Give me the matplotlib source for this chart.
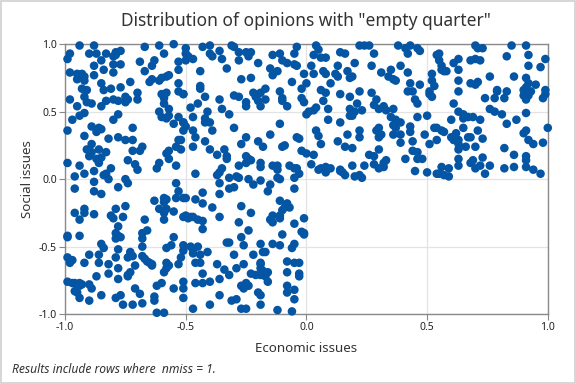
import matplotlib
matplotlib.use("Agg")
import matplotlib.pyplot as plt
from matplotlib.patches import Rectangle

plt.rcParams.update({
    "font.family": ["Noto Sans", "DejaVu Sans"],
})

# Punti: quadrante in alto a sinistra
x_top_left = [
    -0.94, -0.88, -0.67, -0.61, -0.55, -0.98, -0.99, -0.90, -0.87, -0.83, -0.80, -0.79, -0.77, -0.79,
    -0.85, -0.88, -0.80, -0.77, -0.69, -0.63, -0.64, -0.59, -0.53, -0.53, -0.57, -0.58, -0.98, -0.95,
    -0.94, -0.95, -0.93, -0.92, -0.92, -0.88, -0.84, -0.80, -0.67, -0.61, -0.64, -0.65, -0.60, -0.85,
    -0.84, -0.77, -0.73, -0.81, -0.93, -0.91, -0.70, -0.60, -0.58, -0.53, -0.53, -0.51, -0.92, -0.91,
    -0.89, -0.83, -0.80, -0.78, -0.75, -0.74, -0.75, -0.70, -0.59, -0.59, -0.98, -0.95, -0.85, -0.61,
    -0.57, -0.57, -0.60, -0.58, -0.53, -0.55, -0.51, -0.92, -0.94, -0.97, -0.78, -0.80, -0.99, -0.89,
    -0.86, -0.85, -0.87, -0.72, -0.92, -0.82, -0.78, -0.75, -0.72, -0.68, -0.69, -0.89, -0.91, -0.89,
    -0.86, -0.83, -0.90, -0.87, -0.85, -0.86, -0.74, -0.72, -0.61, -0.62, -0.58, -0.57, -0.54, -0.53,
    -0.52, -0.57, -0.71, -0.70, -0.54, -0.99, -0.94, -0.88, -0.83, -0.84, -0.81, -0.82, -0.96, -0.92,
    -0.75,
    -0.50, -0.43, -0.40, -0.31, -0.30, -0.50, -0.49, -0.50, -0.47, -0.40, -0.39, -0.36, -0.35, -0.28,
    -0.28, -0.25, -0.24, -0.23, -0.24, -0.20, -0.14, -0.11, -0.04, -0.05, -0.10, -0.08, -0.05, -0.04,
    -0.15, -0.12, -0.14, -0.33, -0.44, -0.01, -0.27, -0.23, -0.06, 0.00, -0.02, -0.11, -0.17, -0.19,
    -0.21, -0.22, -0.20, -0.19, -0.17, -0.25, -0.25, -0.30, -0.28, -0.36, -0.42, -0.44, -0.44, -0.51,
    -0.45, -0.48, -0.41, -0.35, -0.32, -0.10, -0.10, -0.08, -0.02, -0.01, 0.00, -0.51, -0.50, -0.51,
    -0.47, -0.42, -0.42, -0.40, -0.39, -0.47, -0.46, -0.42, -0.47, -0.52, -0.30, -0.25, -0.27, -0.20,
    -0.18, -0.15, -0.11, -0.10, -0.09, -0.04, -0.03, -0.02, 0.00, -0.40, -0.34, -0.37, -0.33, -0.33,
    -0.25, -0.24, -0.23, -0.25, -0.19, -0.19, -0.14, -0.12, -0.12, -0.07, -0.05, -0.04, -0.28, -0.35,
    -0.36, -0.37, -0.46, -0.32, -0.29, -0.28, -0.24, -0.19, -0.12, -0.11, -0.05, -0.03,
]
y_top_left = [
    0.99, 0.99, 0.98, 0.99, 1.00, 0.93, 0.89, 0.93, 0.93, 0.93, 0.91, 0.94, 0.95, 0.92,
    0.88, 0.84, 0.85, 0.85, 0.87, 0.88, 0.84, 0.93, 0.87, 0.81, 0.77, 0.76, 0.79, 0.78,
    0.77, 0.74, 0.78, 0.76, 0.73, 0.77, 0.81, 0.79, 0.80, 0.73, 0.74, 0.72, 0.75, 0.71,
    0.66, 0.68, 0.72, 0.67, 0.67, 0.66, 0.64, 0.63, 0.64, 0.71, 0.65, 0.63, 0.61, 0.57,
    0.56, 0.58, 0.59, 0.58, 0.61, 0.59, 0.57, 0.59, 0.60, 0.56, 0.59, 0.54, 0.54, 0.50,
    0.52, 0.47, 0.46, 0.45, 0.46, 0.41, 0.42, 0.49, 0.47, 0.44, 0.48, 0.44, 0.36, 0.39,
    0.38, 0.37, 0.35, 0.38, 0.32, 0.30, 0.31, 0.29, 0.29, 0.24, 0.21, 0.26, 0.22, 0.20,
    0.22, 0.20, 0.17, 0.15, 0.16, 0.12, 0.14, 0.21, 0.12, 0.08, 0.19, 0.15, 0.24, 0.29,
    0.29, 0.21, 0.11, 0.07, 0.10, 0.12, 0.10, 0.06, 0.04, 0.03, 0.08, 0.00, 0.02, 0.04,
    0.00,
    0.97, 0.98, 0.99, 0.99, 0.98, 0.93, 0.91, 0.88, 0.89, 0.93, 0.91, 0.95, 0.89, 0.94,
    0.88, 0.94, 0.93, 0.94, 0.91, 0.86, 0.92, 0.93, 0.98, 0.93, 0.88, 0.86, 0.85, 0.84,
    0.82, 0.80, 0.77, 0.82, 0.80, 0.78, 0.74, 0.75, 0.72, 0.71, 0.67, 0.65, 0.67, 0.64,
    0.61, 0.64, 0.58, 0.54, 0.59, 0.57, 0.54, 0.62, 0.61, 0.59, 0.61, 0.69, 0.67, 0.63,
    0.56, 0.53, 0.50, 0.52, 0.48, 0.60, 0.58, 0.54, 0.60, 0.57, 0.48, 0.42, 0.39, 0.36,
    0.46, 0.45, 0.42, 0.42, 0.36, 0.36, 0.31, 0.28, 0.24, 0.22, 0.38, 0.31, 0.26, 0.28,
    0.24, 0.33, 0.41, 0.24, 0.25, 0.31, 0.30, 0.21, 0.19, 0.22, 0.22, 0.18, 0.17, 0.15,
    0.17, 0.15, 0.14, 0.12, 0.12, 0.09, 0.10, 0.10, 0.07, 0.10, 0.08, 0.08, 0.10, 0.08,
    0.05, 0.03, 0.04, 0.01, 0.02, 0.01, 0.00, -0.01, 0.01, 0.00, 0.01, 0.04,
]

# Quadrante in alto a destra
x_top_right = [
    0.04, 0.05, 0.03, 0.06, 0.08, 0.14, 0.16, 0.22, 0.24, 0.26, 0.28, 0.27, 0.20, 0.13, 0.02, 0.03,
    0.07, 0.08, 0.12, 0.13, 0.17, 0.18, 0.19, 0.10, 0.31, 0.35, 0.34, 0.36, 0.37, 0.38, 0.41, 0.43,
    0.42, 0.46, 0.47, 0.39, 0.42, 0.43, 0.47, 0.42, 0.44, 0.45, 0.46, 0.27, 0.29, 0.28, 0.30, 0.32,
    0.36, 0.33, 0.22, 0.18, 0.14, 0.06, 0.08, 0.07, 0.09, 0.04, 0.03, 0.01, 0.18, 0.21, 0.23, 0.20,
    0.19, 0.18, 0.09, 0.14, 0.35, 0.37, 0.36, 0.37, 0.39, 0.46, 0.43, 0.43, 0.04, 0.05, 0.06, 0.13,
    0.17, 0.22, 0.22, 0.29, 0.30, 0.31, 0.30, 0.36, 0.39, 0.39, 0.44, 0.44, 0.46, 0.48, 0.46, 0.41,
    0.03, 0.16, 0.19, 0.30, 0.26, 0.28, 0.28, 0.30, 0.32, 0.33, 0.32, 0.24, 0.19, 0.14, 0.15, 0.16,
    0.14, 0.10, 0.08, 0.08, 0.06, 0.05, 0.02, 0.20, 0.22, 0.23, 0.45,
    0.70, 0.71, 0.73, 0.85, 0.91, 0.54, 0.55, 0.55, 0.56, 0.56, 0.58, 0.57, 0.61, 0.63, 0.63, 0.68,
    0.70, 0.72, 0.83, 0.92, 0.92, 0.97, 0.99, 0.52, 0.52, 0.53, 0.76, 0.86, 0.91, 0.92, 0.91, 0.95,
    0.63, 0.68, 0.70, 0.71, 0.63, 0.51, 0.52, 0.51, 0.79, 0.79, 0.78, 0.74, 0.82, 0.83, 0.90, 0.90,
    0.91, 0.92, 0.93, 0.98, 0.99, 0.99, 0.61, 0.76, 0.78, 0.81, 0.83, 0.91, 0.87, 0.63, 0.65, 0.65,
    0.67, 0.69, 0.72, 0.60, 0.50, 0.53, 0.54, 0.56, 0.57, 0.65, 0.71, 0.68, 0.67, 0.73, 0.62, 0.60,
    0.61, 0.63, 0.63, 0.63, 0.66, 0.70, 0.54, 0.51, 0.49, 0.91, 0.90, 0.92, 0.94, 0.98, 1.00, 0.82,
    0.86, 0.91, 0.91, 0.91, 0.94, 0.97, 0.86, 0.82, 0.73, 0.72, 0.76, 0.74, 0.69, 0.68, 0.70, 0.63,
    0.63, 0.59, 0.56, 0.55, 0.54, 0.57, 0.59, 0.50,
]
y_top_right = [
    0.99, 0.96, 0.92, 0.90, 0.90, 0.94, 0.93, 0.99, 0.99, 0.99, 0.93, 0.84, 0.86, 0.84, 0.84, 0.78,
    0.80, 0.78, 0.78, 0.76, 0.80, 0.75, 0.76, 0.71, 0.79, 0.81, 0.76, 0.74, 0.73, 0.99, 0.97, 0.99,
    0.93, 0.97, 0.95, 0.84, 0.79, 0.71, 0.70, 0.65, 0.65, 0.59, 0.56, 0.64, 0.59, 0.55, 0.52, 0.54,
    0.52, 0.51, 0.65, 0.61, 0.63, 0.66, 0.64, 0.58, 0.52, 0.53, 0.51, 0.50, 0.52, 0.56, 0.51, 0.50,
    0.47, 0.47, 0.44, 0.42, 0.46, 0.44, 0.40, 0.38, 0.42, 0.46, 0.39, 0.35, 0.36, 0.32, 0.26, 0.28,
    0.33, 0.36, 0.31, 0.36, 0.38, 0.33, 0.31, 0.33, 0.33, 0.27, 0.28, 0.21, 0.20, 0.15, 0.15, 0.15,
    0.18, 0.24, 0.23, 0.22, 0.18, 0.17, 0.11, 0.08, 0.12, 0.14, 0.09, 0.10, 0.10, 0.07, 0.05, 0.03,
    0.06, 0.08, 0.09, 0.05, 0.08, 0.07, 0.11, 0.02, 0.03, 0.01, 0.06,
    0.99, 0.97, 0.97, 0.99, 0.99, 0.92, 0.93, 0.88, 0.84, 0.81, 0.80, 0.80, 0.86, 0.89, 0.81, 0.88,
    0.89, 0.88, 0.91, 0.92, 0.84, 0.83, 0.89, 0.78, 0.73, 0.69, 0.76, 0.76, 0.75, 0.71, 0.68, 0.70,
    0.73, 0.71, 0.70, 0.72, 0.65, 0.63, 0.61, 0.65, 0.65, 0.66, 0.60, 0.60, 0.60, 0.65, 0.66, 0.62,
    0.59, 0.62, 0.65, 0.60, 0.66, 0.63, 0.56, 0.52, 0.50, 0.48, 0.41, 0.49, 0.44, 0.50, 0.48, 0.45,
    0.46, 0.46, 0.44, 0.44, 0.47, 0.38, 0.38, 0.36, 0.35, 0.38, 0.36, 0.31, 0.31, 0.30, 0.34, 0.31,
    0.29, 0.29, 0.26, 0.22, 0.24, 0.24, 0.29, 0.26, 0.33, 0.36, 0.34, 0.29, 0.26, 0.27, 0.38, 0.23,
    0.18, 0.17, 0.14, 0.09, 0.07, 0.04, 0.09, 0.08, 0.16, 0.10, 0.10, 0.04, 0.14, 0.12, 0.08, 0.15,
    0.10, 0.08, 0.09, 0.04, 0.04, 0.03, 0.02, 0.05,
]

# Quadrante in basso a sinistra
x_bottom_left = [
    -0.96, -0.88, -0.88, -0.85, -0.78, -0.74, -0.54, -0.53, -0.54, -0.51, -0.63, -0.61, -0.59, -0.58,
    -0.59, -0.58, -0.59, -0.59, -0.55, -0.51, -0.96, -0.92, -0.92, -0.94, -0.88, -0.81, -0.80, -0.79,
    -0.75, -0.76, -0.78, -0.67, -0.79, -0.78, -0.77, -0.79, -0.99, -0.99, -0.94, -0.68, -0.66, -0.68,
    -0.55, -0.85, -0.84, -0.78, -0.68, -0.58, -0.56, -0.52, -0.51, -0.51, -0.99, -0.97, -0.98, -0.92,
    -0.90, -0.86, -0.86, -0.82, -0.79, -0.78, -0.74, -0.73, -0.72, -0.71, -0.68, -0.67, -0.66, -0.65,
    -0.64, -0.64, -0.58, -0.57, -0.59, -0.53, -0.73, -0.74, -0.74, -0.87, -0.82, -0.78, -0.99, -0.97,
    -0.96, -0.94, -0.94, -0.93, -0.90, -0.89, -0.96, -0.95, -0.94, -0.90, -0.85, -0.79, -0.77, -0.76,
    -0.72, -0.71, -0.69, -0.68, -0.63, -0.63, -0.62, -0.60, -0.55, -0.51, -0.51, -0.51, -0.62, -0.59,
    -0.58,
    -0.36, -0.32, -0.30, -0.22, -0.15, -0.16, -0.50, -0.46, -0.43, -0.43, -0.39, -0.36, -0.05, -0.11,
    -0.08, -0.09, -0.07, -0.10, -0.11, -0.14, -0.15, -0.14, -0.11, -0.05, -0.01, -0.02, -0.01, -0.01,
    -0.27, -0.23, -0.28, -0.36, -0.50, -0.49, -0.48, -0.47, -0.45, -0.43, -0.43, -0.24, -0.27, -0.26,
    -0.10, -0.33, -0.32, -0.48, -0.47, -0.47, -0.45, -0.44, -0.46, -0.44, -0.41, -0.30, -0.22, -0.19,
    -0.14, -0.11, -0.18, -0.17, -0.05, -0.06, -0.37, -0.34, -0.32, -0.29, -0.26, -0.19, -0.19, -0.19,
    -0.18, -0.16, -0.19, -0.17, -0.16, -0.23, -0.21, -0.08, -0.05, -0.03, -0.08, -0.03, -0.03, -0.43,
    -0.46, -0.43, -0.40, -0.36, -0.27, -0.25, -0.24, -0.26, -0.36, -0.31, -0.29, -0.20, -0.19, -0.19,
    -0.08, -0.08, -0.05, -0.05, -0.40, -0.47, -0.27, -0.25, -0.12, -0.06,
]
y_bottom_left = [
    -0.07, -0.02, -0.09, -0.11, -0.06, -0.03, -0.03, -0.09, -0.14, -0.14, -0.16, -0.22, -0.14, -0.15,
    -0.17, -0.22, -0.25, -0.30, -0.24, -0.28, -0.25, -0.22, -0.25, -0.30, -0.26, -0.27, -0.29, -0.22,
    -0.20, -0.28, -0.35, -0.30, -0.40, -0.42, -0.43, -0.44, -0.42, -0.43, -0.42, -0.40, -0.38, -0.44,
    -0.43, -0.48, -0.51, -0.52, -0.50, -0.51, -0.49, -0.58, -0.53, -0.49, -0.58, -0.60, -0.62, -0.62,
    -0.56, -0.56, -0.62, -0.63, -0.58, -0.66, -0.58, -0.54, -0.57, -0.64, -0.57, -0.59, -0.61, -0.62,
    -0.63, -0.64, -0.62, -0.64, -0.69, -0.63, -0.69, -0.71, -0.72, -0.72, -0.70, -0.74, -0.76, -0.77,
    -0.77, -0.77, -0.79, -0.78, -0.78, -0.81, -0.83, -0.84, -0.88, -0.90, -0.86, -0.88, -0.86, -0.93,
    -0.93, -0.81, -0.85, -0.92, -0.87, -0.90, -0.79, -0.77, -0.81, -0.76, -0.81, -0.88, -0.99, -0.99,
    -0.66,
    -0.03, -0.07, -0.06, -0.04, -0.04, -0.09, -0.14, -0.15, -0.10, -0.18, -0.21, -0.11, -0.07, -0.16,
    -0.18, -0.21, -0.21, -0.23, -0.27, -0.27, -0.30, -0.32, -0.29, -0.33, -0.29, -0.39, -0.41, -0.40,
    -0.20, -0.25, -0.32, -0.28, -0.27, -0.29, -0.28, -0.28, -0.30, -0.31, -0.37, -0.38, -0.43, -0.49,
    -0.41, -0.47, -0.47, -0.50, -0.52, -0.55, -0.50, -0.56, -0.62, -0.62, -0.54, -0.56, -0.56, -0.48,
    -0.48, -0.49, -0.54, -0.54, -0.48, -0.51, -0.63, -0.67, -0.71, -0.66, -0.63, -0.63, -0.62, -0.66,
    -0.68, -0.69, -0.71, -0.72, -0.76, -0.70, -0.71, -0.61, -0.62, -0.62, -0.69, -0.70, -0.72, -0.70,
    -0.77, -0.77, -0.76, -0.74, -0.79, -0.77, -0.79, -0.81, -0.86, -0.90, -0.89, -0.84, -0.86, -0.93,
    -0.79, -0.84, -0.82, -0.89, -0.93, -0.96, -0.96, -0.96, -0.97, -0.98,
]

x_all = x_top_left + x_top_right + x_bottom_left
y_all = y_top_left + y_top_right + y_bottom_left

fig = plt.figure(figsize=(5.76, 3.84), dpi=100)
ax = fig.add_axes([0.113, 0.182, 0.838, 0.703])

ax.scatter(x_all, y_all, s=38, color="#0455A4", edgecolors="none", zorder=3, clip_on=False)

ax.set_xlim(-1, 1)
ax.set_ylim(-1, 1)
ax.set_xticks([-1.0, -0.5, 0.0, 0.5, 1.0])
ax.set_yticks([-1.0, -0.5, 0.0, 0.5, 1.0])
ax.set_xticklabels(["-1.0", "-0.5", "0.0", "0.5", "1.0"])
ax.set_yticklabels(["-1.0", "-0.5", "0.0", "0.5", "1.0"])
ax.grid(True, color="#e3e3e3", linewidth=0.9, zorder=0)
ax.set_axisbelow(True)
ax.tick_params(labelsize=7.5, colors="#222222", length=4, width=0.8, pad=2)
ax.tick_params(axis="both", color="#888888")
for s in ax.spines.values():
    s.set_color("#8a8a8a")
    s.set_linewidth(1.0)

ax.set_xlabel("Economic issues", fontsize=9.6, color="#333333", labelpad=6)
ax.set_ylabel("Social issues", fontsize=9.6, color="#333333", labelpad=3)
fig.text(0.532, 0.945, 'Distribution of opinions with "empty quarter"', ha="center", va="center",
         fontsize=12.5, color="#333333")
fig.text(0.02, 0.037, "Results include rows where  nmiss = 1.", ha="left", va="center",
         fontsize=8.7, style="italic", color="#333333")

# cornice grigia attorno alla figura
fig.patches.append(Rectangle((0.001, 0.002), 0.997, 0.996, transform=fig.transFigure,
                             fill=False, edgecolor="#d0d0d0", linewidth=1.2))

fig.savefig("out.png", dpi=100)
